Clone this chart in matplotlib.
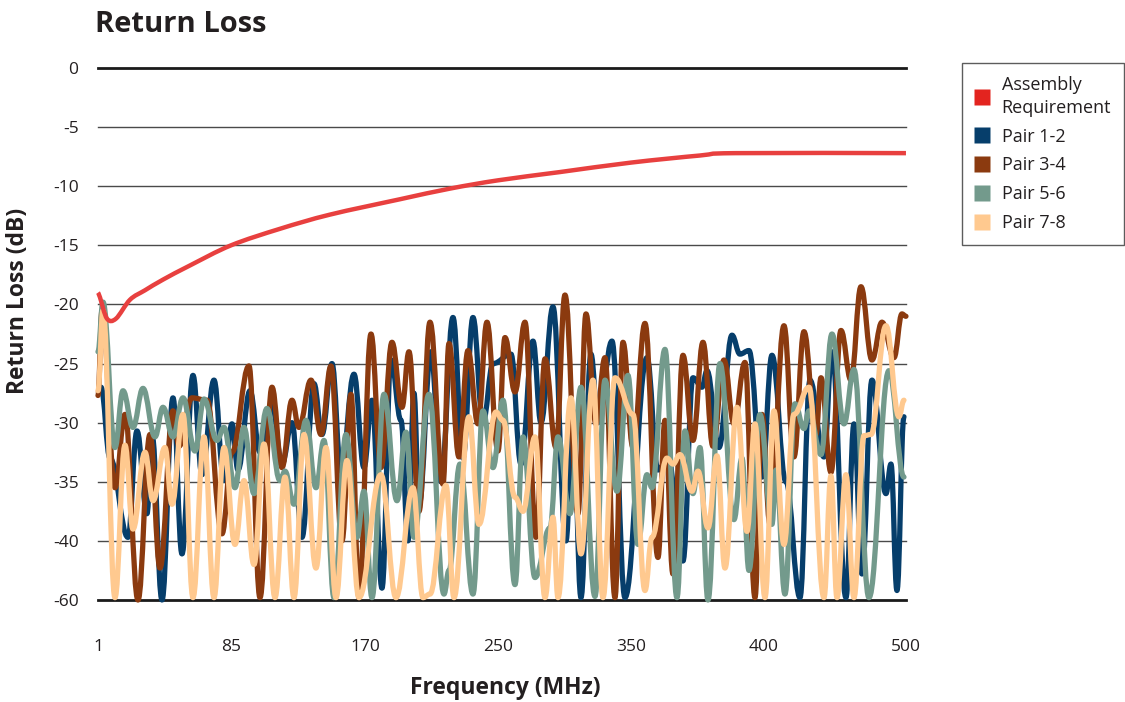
import matplotlib
matplotlib.use("Agg")
import matplotlib.pyplot as plt
from matplotlib.lines import Line2D
from matplotlib.path import Path
from matplotlib.patches import PathPatch

plt.rcParams['font.family'] = ['Open Sans', 'DejaVu Sans']

# x is the sweep position along the (non-linear) frequency axis
tick_pos = [0, 133, 267, 400, 533, 666, 808]
tick_labels = ["1", "85", "170", "250", "350", "400", "500"]
y_ticks = [0, -5, -10, -15, -20, -25, -30, -35, -40, -45]
y_labels = ["0", "-5", "-10", "-15", "-20", "-25", "-30", "-35", "-40", "-60"]

req_x = [0, 2, 9, 18, 32, 47, 65, 92, 133, 182, 232, 302, 352, 400, 462, 533, 602, 637, 808]
req_y = [-19.0, -19.4, -21.2, -21.2, -19.6, -18.8, -17.9, -16.7, -15.0, -13.6, -12.4,
         -11.1, -10.2, -9.5, -8.8, -8.0, -7.4, -7.2, -7.2]

p12_x = [3, 12, 30, 39, 49, 54, 64, 75, 84, 95, 104, 116, 126, 134, 140, 152, 162, 174, 184, 194,
         204, 216, 224, 234, 243, 256, 266, 274, 284, 293, 303, 310, 316, 321, 333, 343, 355, 365,
         375, 385, 395, 413, 423, 435, 443, 455, 468, 475, 483, 493, 500, 514, 527, 549, 560, 570,
         585, 595, 604, 609, 621, 634, 642, 651, 664, 674, 688, 702, 712, 726, 734, 748, 756, 764,
         774, 788, 793, 799, 806]
p12_y = [-27.0, -33.0, -39.7, -30.7, -37.7, -31.0, -45.0, -27.9, -41.1, -26.0, -34.4, -26.4, -34.9,
         -30.1, -34.0, -27.3, -32.5, -28.5, -33.5, -30.0, -39.7, -26.7, -31.0, -25.0, -34.1, -25.9,
         -33.8, -28.1, -44.0, -24.7, -29.8, -40.0, -27.5, -37.0, -24.0, -35.0, -21.1, -33.0, -21.1,
         -30.0, -25.0, -24.2, -33.5, -23.1, -30.0, -20.2, -40.0, -29.0, -44.8, -24.2, -30.0, -23.1,
         -44.8, -24.5, -34.0, -33.0, -41.7, -26.2, -27.0, -25.6, -32.1, -22.6, -24.2, -23.9, -34.6,
         -24.3, -35.0, -44.8, -26.4, -32.9, -24.0, -44.8, -30.1, -42.8, -26.4, -36.0, -33.5, -44.2,
         -29.5]

p34_x = [0, 4, 17, 27, 40, 52, 62, 75, 81, 94, 109, 124, 134, 151, 162, 174, 184, 194, 201, 213,
         223, 233, 244, 253, 261, 273, 283, 294, 304, 311, 321, 332, 345, 351, 361, 370, 380, 389,
         400, 407, 417, 427, 438, 447, 458, 467, 480, 488, 498, 507, 517, 525, 535, 547, 560, 567,
         575, 585, 595, 605, 615, 626, 636, 647, 657, 664, 672, 686, 696, 706, 718, 723, 733, 743,
         753, 763, 774, 784, 796, 804, 808]
p34_y = [-27.7, -20.5, -35.5, -29.3, -45.0, -31.0, -42.3, -29.0, -32.0, -27.9, -28.1, -39.4, -32.5,
         -25.2, -44.8, -27.0, -33.8, -28.1, -30.4, -26.4, -31.0, -25.2, -40.0, -27.6, -44.8, -22.5,
         -33.8, -23.2, -28.7, -24.0, -37.5, -21.5, -35.2, -23.3, -32.9, -23.9, -30.1, -21.5, -32.4,
         -22.8, -27.4, -21.5, -39.7, -24.6, -32.1, -19.2, -37.7, -20.8, -30.1, -24.5, -44.8, -23.2,
         -32.1, -21.6, -41.4, -29.8, -42.8, -24.3, -31.5, -23.2, -32.0, -24.7, -30.1, -24.9, -44.8,
         -29.3, -38.6, -21.8, -32.9, -22.3, -31.0, -26.2, -34.2, -22.2, -26.4, -18.5, -24.7, -21.5,
         -24.5, -20.8, -21.0]

p56_x = [0, 5, 17, 25, 35, 45, 57, 65, 75, 85, 97, 106, 119, 126, 137, 146, 156, 169, 182, 187,
         196, 208, 218, 226, 236, 248, 259, 266, 274, 286, 299, 308, 316, 331, 346, 351, 362, 375,
         385, 395, 405, 417, 425, 437, 452, 460, 472, 483, 497, 507, 519, 530, 540, 549, 554, 567,
         579, 587, 595, 602, 610, 622, 636, 644, 651, 662, 674, 678, 687, 697, 706, 711, 723, 734,
         746, 756, 771, 791, 806]
p56_y = [-24.0, -19.8, -32.1, -27.3, -30.4, -27.1, -31.2, -28.7, -31.2, -27.9, -32.4, -28.0, -31.5,
         -30.4, -35.5, -30.4, -36.0, -28.8, -34.9, -34.1, -36.9, -29.8, -35.5, -31.5, -44.8, -31.0,
         -39.7, -35.8, -44.8, -27.6, -36.6, -30.8, -39.7, -27.6, -44.5, -42.5, -33.5, -44.5, -29.0,
         -33.8, -28.1, -43.7, -31.2, -43.1, -38.9, -31.2, -37.7, -27.0, -44.7, -26.4, -35.8, -26.0,
         -40.3, -34.4, -35.5, -23.8, -44.8, -30.7, -36.0, -32.1, -45.0, -25.0, -38.2, -33.0, -42.5,
         -29.3, -38.6, -34.0, -44.5, -28.4, -30.5, -29.0, -32.7, -22.5, -30.1, -25.5, -44.8, -25.6,
         -34.6]

p78_x = [0, 5, 17, 27, 35, 47, 55, 67, 74, 85, 95, 106, 116, 126, 137, 146, 156, 166, 177, 187,
         196, 206, 218, 228, 238, 249, 261, 283, 298, 315, 325, 332, 348, 356, 371, 381, 398, 405,
         417, 425, 437, 447, 455, 460, 473, 483, 495, 505, 517, 535, 547, 554, 569, 575, 582, 594,
         600, 610, 619, 627, 639, 649, 657, 667, 676, 686, 696, 711, 726, 733, 739, 748, 756, 766,
         773, 788, 801, 806]
p78_y = [-27.3, -20.5, -44.8, -31.9, -39.0, -32.5, -36.6, -32.1, -36.9, -29.3, -44.8, -31.2, -44.8,
         -32.1, -40.3, -34.9, -42.0, -31.8, -44.8, -34.6, -44.8, -31.0, -42.3, -32.1, -44.8, -33.2,
         -44.8, -34.4, -44.8, -35.5, -44.8, -44.5, -35.3, -44.8, -29.5, -38.6, -29.1, -29.8, -36.3,
         -37.5, -31.2, -44.8, -38.0, -44.8, -27.9, -41.1, -26.4, -44.8, -26.2, -29.3, -44.2, -39.7,
         -33.0, -33.5, -32.7, -35.8, -34.1, -38.9, -32.8, -42.3, -28.7, -39.2, -30.1, -44.8, -29.0,
         -40.3, -29.3, -27.0, -44.8, -34.5, -44.8, -34.4, -44.8, -31.1, -31.0, -21.8, -29.5, -28.1]

series = [
    ("Pair 1-2", p12_x, p12_y, "#063e6b"),
    ("Pair 3-4", p34_x, p34_y, "#8b3a0f"),
    ("Pair 5-6", p56_x, p56_y, "#739a8c"),
    ("Pair 7-8", p78_x, p78_y, "#ffc98f"),
]
req_color = "#e8403f"
text_color = "#231f20"


def smooth_path(xs, ys, k=0.4):
    """Bezier path through the read points, flat tangents at each point."""
    verts = [(xs[0], ys[0])]
    codes = [Path.MOVETO]
    for i in range(1, len(xs)):
        dx = xs[i] - xs[i - 1]
        verts += [(xs[i - 1] + k * dx, ys[i - 1]),
                  (xs[i] - k * dx, ys[i]),
                  (xs[i], ys[i])]
        codes += [Path.CURVE4] * 3
    return Path(verts, codes)


def spline_path(xs, ys):
    """Catmull-Rom style Bezier path through the read points (for the smooth limit line)."""
    n = len(xs)
    verts = [(xs[0], ys[0])]
    codes = [Path.MOVETO]
    for i in range(1, n):
        a, b = max(i - 2, 0), min(i + 1, n - 1)
        # tangents at the two ends of the segment
        t0x, t0y = (xs[i] - xs[a]) / 6, (ys[i] - ys[a]) / 6
        t1x, t1y = (xs[b] - xs[i - 1]) / 6, (ys[b] - ys[i - 1]) / 6
        verts += [(xs[i - 1] + t0x, ys[i - 1] + t0y),
                  (xs[i] - t1x, ys[i] - t1y),
                  (xs[i], ys[i])]
        codes += [Path.CURVE4] * 3
    return Path(verts, codes)


fig = plt.figure(figsize=(11.25, 7.02), dpi=100)
ax = fig.add_axes([0.0871, 0.1453, 0.7182, 0.7578])
ax.set_xlim(0, 808)
ax.set_ylim(-45, 0)

# gridlines
for yv in y_ticks:
    edge = yv in (0, -45)
    ax.axhline(yv, color="#1a1a1a" if edge else "#4a4a4a",
               lw=2.0 if edge else 1.0, zorder=1, clip_on=False)

for name, xs, ys, c in series:
    ax.add_patch(PathPatch(smooth_path(xs, ys), fill=False, edgecolor=c, lw=3.8,
                           capstyle='round', joinstyle='round', zorder=3,
                           clip_on=False))
ax.add_patch(PathPatch(spline_path(req_x, req_y), fill=False, edgecolor=req_color,
                       lw=3.2, joinstyle='round', zorder=5, clip_on=False))

for s in ax.spines.values():
    s.set_visible(False)
ax.set_yticks(y_ticks)
ax.set_yticklabels(y_labels, fontsize=12.5, color=text_color)
ax.set_xticks(tick_pos)
ax.set_xticklabels(tick_labels, fontsize=12.5, color=text_color)
ax.tick_params(axis='both', length=0)
ax.tick_params(axis='y', pad=14)
ax.tick_params(axis='x', pad=28)

fig.text(0.0845, 0.965, "Return Loss", fontsize=21, fontweight='bold',
         color=text_color, ha='left', va='center')
fig.text(0.449, 0.02, "Frequency (MHz)", fontsize=16.5, fontweight='bold',
         color=text_color, ha='center', va='center')
fig.text(0.016, 0.572, "Return Loss (dB)", fontsize=16.5, fontweight='bold',
         color=text_color, ha='center', va='center', rotation=90)

handles = [Line2D([0], [0], marker='s', ls='none', markersize=11,
                  markerfacecolor="#e3241f", markeredgecolor='none',
                  label="Assembly\nRequirement")]
for name, xs, ys, c in series:
    handles.append(Line2D([0], [0], marker='s', ls='none', markersize=11,
                          markerfacecolor=c, markeredgecolor='none', label=name))
leg = fig.legend(handles=handles, loc='upper left', bbox_to_anchor=(0.855, 0.91),
                 borderaxespad=0, fontsize=13, frameon=True, fancybox=False,
                 handlelength=0.8, handletextpad=0.7, labelspacing=0.6,
                 borderpad=0.7, edgecolor="#333333")
leg.get_frame().set_linewidth(1.0)
for t in leg.get_texts():
    t.set_color(text_color)
    t.set_linespacing(1.35)

fig.savefig("out.png", dpi=100)
